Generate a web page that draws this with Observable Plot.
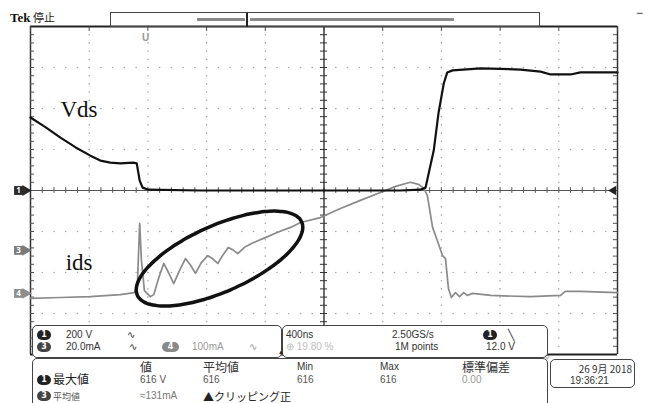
<!DOCTYPE html>
<html><head><meta charset="utf-8">
<script src="https://cdn.jsdelivr.net/npm/d3@7"></script>
<script src="https://cdn.jsdelivr.net/npm/@observablehq/plot@0.6"></script>
<style>
body{margin:0;background:#fff;}
#wrap{position:relative;width:649px;height:403px;overflow:hidden;font-family:"Liberation Sans",sans-serif;color:#333}
#wrap svg{position:absolute;left:0;top:0}
.abs{position:absolute;white-space:nowrap;line-height:1}
.box{position:absolute;border:1.5px solid #444;border-radius:5px;background:#fff;box-sizing:border-box}
.badge{position:absolute;height:10px;border-radius:5px;color:#fff;font-size:8px;font-weight:bold;text-align:center;line-height:10px;font-family:"DejaVu Sans",sans-serif}
</style></head><body><div id="wrap"></div>
<script>
// time axis in divisions (400 ns/div, 0..10), level in divisions (-4..4, ch1 ground = 0)
const vdsTime  = [0.00,0.26,0.51,0.77,1.02,1.19,1.36,1.53,1.75,1.81,1.86,1.91,2.01,2.90,4.60,6.30,6.64,6.73,6.87,6.95,7.04,7.10,7.19,7.67,8.35,8.69,8.86,9.20,9.37,10.00];
const vdsLevel = [1.78,1.54,1.29,1.05,0.85,0.73,0.68,0.66,0.68,0.66,0.24,0.07,0.02,0.00,0.00,0.00,0.02,0.07,0.98,1.88,2.61,2.88,2.93,2.98,2.95,2.90,2.83,2.83,2.88,2.88];
const idsTime  = [0.00,0.51,1.02,1.53,1.77,1.82,1.86,1.89,1.94,2.04,2.10,2.18,2.27,2.35,2.44,2.54,2.64,2.73,2.81,2.91,3.02,3.10,3.19,3.27,3.37,3.46,3.53,3.66,3.80,4.00,4.21,4.43,4.60,4.94,5.28,5.62,5.96,6.22,6.47,6.61,6.70,6.76,6.85,6.93,7.02,7.07,7.12,7.17,7.24,7.31,7.38,7.44,7.53,7.84,8.52,9.03,9.11,9.37,10.00];
const idsLevel = [-2.63,-2.61,-2.59,-2.54,-2.49,-2.32,-0.80,-1.71,-2.44,-2.59,-2.54,-2.15,-1.78,-2.00,-2.27,-1.95,-1.66,-1.83,-2.02,-1.76,-1.59,-1.66,-1.78,-1.59,-1.39,-1.46,-1.54,-1.37,-1.27,-1.15,-1.02,-0.90,-0.78,-0.66,-0.44,-0.24,-0.05,0.10,0.20,0.15,0.05,-0.12,-0.90,-1.22,-1.59,-1.66,-2.39,-2.61,-2.49,-2.59,-2.49,-2.56,-2.51,-2.56,-2.59,-2.56,-2.46,-2.46,-2.49];
const traceLabels = ["Vds","ids"];
const labelTime   = [0.51, 0.60];
const labelLevel  = [1.80, -1.95];
const markerNames = ["1","3","4"];
const markerLevel = [0, -1.46, -2.51];
const markerFill  = ["#2a2a2a","#7a7a7a","#8e8e8e"];
// highlight ellipse: centre and conjugate half-axes, in divisions
const ellipseCentre = [3.22, -1.66];
const ellipseMajor  = [1.40, 0.893];
const ellipseMinor  = [0.228, -0.737];

const vds = vdsTime.map((t,i)=>({t, v:vdsLevel[i]}));
const ids = idsTime.map((t,i)=>({t, v:idsLevel[i]}));
const ell = d3.range(0, 361, 4).map(a=>{const r=a*Math.PI/180;return {t:ellipseCentre[0]+Math.cos(r)*ellipseMajor[0]+Math.sin(r)*ellipseMinor[0], v:ellipseCentre[1]+Math.cos(r)*ellipseMajor[1]+Math.sin(r)*ellipseMinor[1]};});
const vLines=[1,2,3,4,6,7,8,9], hLines=[-3,-2,-1,1,2,3];
const fineY=d3.range(-4,4.001,0.2), fineX=d3.range(0,10.001,0.2);
const grid=[];
vLines.forEach(x=>fineY.forEach(y=>grid.push({x,y})));
hLines.forEach(y=>fineX.forEach(x=>grid.push({x,y})));
const labels = traceLabels.map((s,i)=>({s,t:labelTime[i],v:labelLevel[i]}));
const markers = markerNames.map((s,i)=>({s,v:markerLevel[i],f:markerFill[i]}));

const chart = Plot.plot({
  width:649, height:403, marginLeft:30, marginRight:32, marginTop:26, marginBottom:49,
  x:{domain:[0,10], axis:null}, y:{domain:[-4,4], axis:null},
  style:{background:"transparent"},
  marks:[
    Plot.dot(grid,{x:"x",y:"y",r:0.8,fill:"#a8a8a8",stroke:"none"}),
    Plot.ruleY([0],{stroke:"#555",strokeWidth:1}),
    Plot.ruleX(fineX,{x:d=>d,y1:-0.07,y2:0.07,stroke:"#555",strokeWidth:1}),
    Plot.ruleX([5],{stroke:"#222",strokeWidth:1.3}),
    Plot.ruleY(fineY,{y:d=>d,x1:4.94,x2:5.06,stroke:"#333",strokeWidth:1}),
    Plot.ruleX([0,10],{stroke:"#333",strokeWidth:1.5}),
    Plot.ruleY(fineY,{y:d=>d,x1:0,x2:0.07,stroke:"#555",strokeWidth:1}),
    Plot.ruleY(fineY,{y:d=>d,x1:9.93,x2:10,stroke:"#555",strokeWidth:1}),
    Plot.ruleY([4,-4],{stroke:"#222",strokeWidth:1.8}),
    Plot.ruleX(d3.range(0,11),{x:d=>d,y1:4,y2:3.88,stroke:"#444",strokeWidth:1}),
    Plot.line(ids,{x:"t",y:"v",stroke:"#8a8a8a",strokeWidth:1.7,strokeLinejoin:"round"}),
    Plot.line(vds,{x:"t",y:"v",stroke:"#111",strokeWidth:2.2,strokeLinejoin:"round"}),
    Plot.line(ell,{x:"t",y:"v",stroke:"#111",strokeWidth:3.5,curve:"catmull-rom"}),
    Plot.text(labels,{x:"t",y:"v",text:"s",textAnchor:"start",lineAnchor:"bottom",fontSize:23,fontFamily:"Liberation Serif",fill:"#111"}),
    Plot.dot(markers,{x:0,y:"v",dx:-12,symbol:"square",r:5,fill:"f",stroke:"none"}),
    Plot.dot(markers,{x:0,y:"v",dx:-5,symbol:"triangle",rotate:90,r:4,fill:"f",stroke:"none"}),
    Plot.text(markers,{x:0,y:"v",dx:-12,text:"s",fill:"#fff",fontSize:8,fontWeight:"bold"}),
    Plot.dot([0],{x:10,y:0,dx:-4,symbol:"triangle",rotate:-90,r:3.5,fill:"#222",stroke:"none"})
  ]
});
const wrap=document.getElementById("wrap");
wrap.appendChild(chart);

function T(x,y,s,o={}){const d=document.createElement("div");d.className="abs";d.textContent=s;const sz=o.size||10;d.style.fontSize=sz+"px";d.style.top=(y-sz*0.5)+"px";
 if(o.right){d.style.right=(649-x)+"px";}else d.style.left=x+"px";
 if(o.color)d.style.color=o.color;if(o.font)d.style.fontFamily=o.font;if(o.weight)d.style.fontWeight=o.weight;wrap.appendChild(d);return d;}
function B(x,y,w,h,o={}){const d=document.createElement("div");d.className="box";Object.assign(d.style,{left:x+"px",top:y+"px",width:w+"px",height:h+"px"},o);wrap.appendChild(d);return d;}
function badge(x,y,s,bg,w=14){const d=document.createElement("div");d.className="badge";d.textContent=s;Object.assign(d.style,{left:x+"px",top:y+"px",width:w+"px",background:bg});wrap.appendChild(d);}
const CJK='"Noto Sans CJK JP",sans-serif';

// header
T(10,17,"Tek",{size:13,font:"Liberation Serif",weight:"bold",color:"#111"});
T(33,17,"停止",{size:11,font:CJK,color:"#222"});
B(110,12,430,15,{borderRadius:"0",border:"1px solid #444",background:"transparent"});
B(197,18,48,3,{borderRadius:"0",border:"none",background:"#8a8a8a"});
B(250,18,204,3,{borderRadius:"0",border:"none",background:"#8a8a8a"});
B(246,13,2,14,{borderRadius:"0",border:"none",background:"#222"});
T(636,13,"−",{size:12,color:"#333"});
T(142,38,"U",{size:10,color:"#999",weight:"bold"});

// channel panel
B(32,325,250,33);
badge(37,330,"1","#222");T(66,335,"200 V");T(127,335,"∿",{font:"DejaVu Sans"});
badge(37,342,"3","#444");T(66,347,"20.0mA");T(129,347,"∿",{font:"DejaVu Sans"});
badge(162,342,"4","#8a8a8a",17);T(192,347,"100mA",{color:"#9a9a9a"});T(249,347,"∿",{font:"DejaVu Sans",color:"#9a9a9a"});
// timebase panel
B(282,325,266,33);
T(286,335,"400ns");T(286,347,"⊕ 19.80 %",{color:"#bdbdbd"});
T(392,335,"2.50GS/s");T(395,347,"1M points");
badge(483,330,"1","#222");T(508,335,"╲",{font:"DejaVu Sans",size:11});T(486,347,"12.0 V");
// measurement panel
B(32,358,516,60);
T(140,367,"値",{size:12,font:CJK});T(203,367,"平均値",{size:12,font:CJK});
T(297,367,"Min");T(380,367,"Max");T(462,367,"標準偏差",{size:12,font:CJK});
badge(37,375,"1","#222");T(53,379,"最大値",{size:12,font:CJK,color:"#222"});
T(140,380,"616 V",{color:"#555"});T(203,380,"616",{color:"#555"});T(297,380,"616",{color:"#555"});T(380,380,"616",{color:"#555"});T(462,380,"0.00",{color:"#999"});
badge(37,391,"3","#444");T(53,396,"平均値",{size:9,font:CJK,color:"#555"});
T(140,396,"≈131mA",{color:"#777"});T(203,396,"▲クリッピング正",{size:11,font:CJK,color:"#222"});
// date panel
B(550,359,85,29);
T(632,369,"26 9月 2018",{right:true,font:CJK});T(570,381,"19:36:21");
T(278,352,"▲",{size:6,color:"#222"});T(545,357,"▽",{size:6,color:"#444"});
</script></body></html>
